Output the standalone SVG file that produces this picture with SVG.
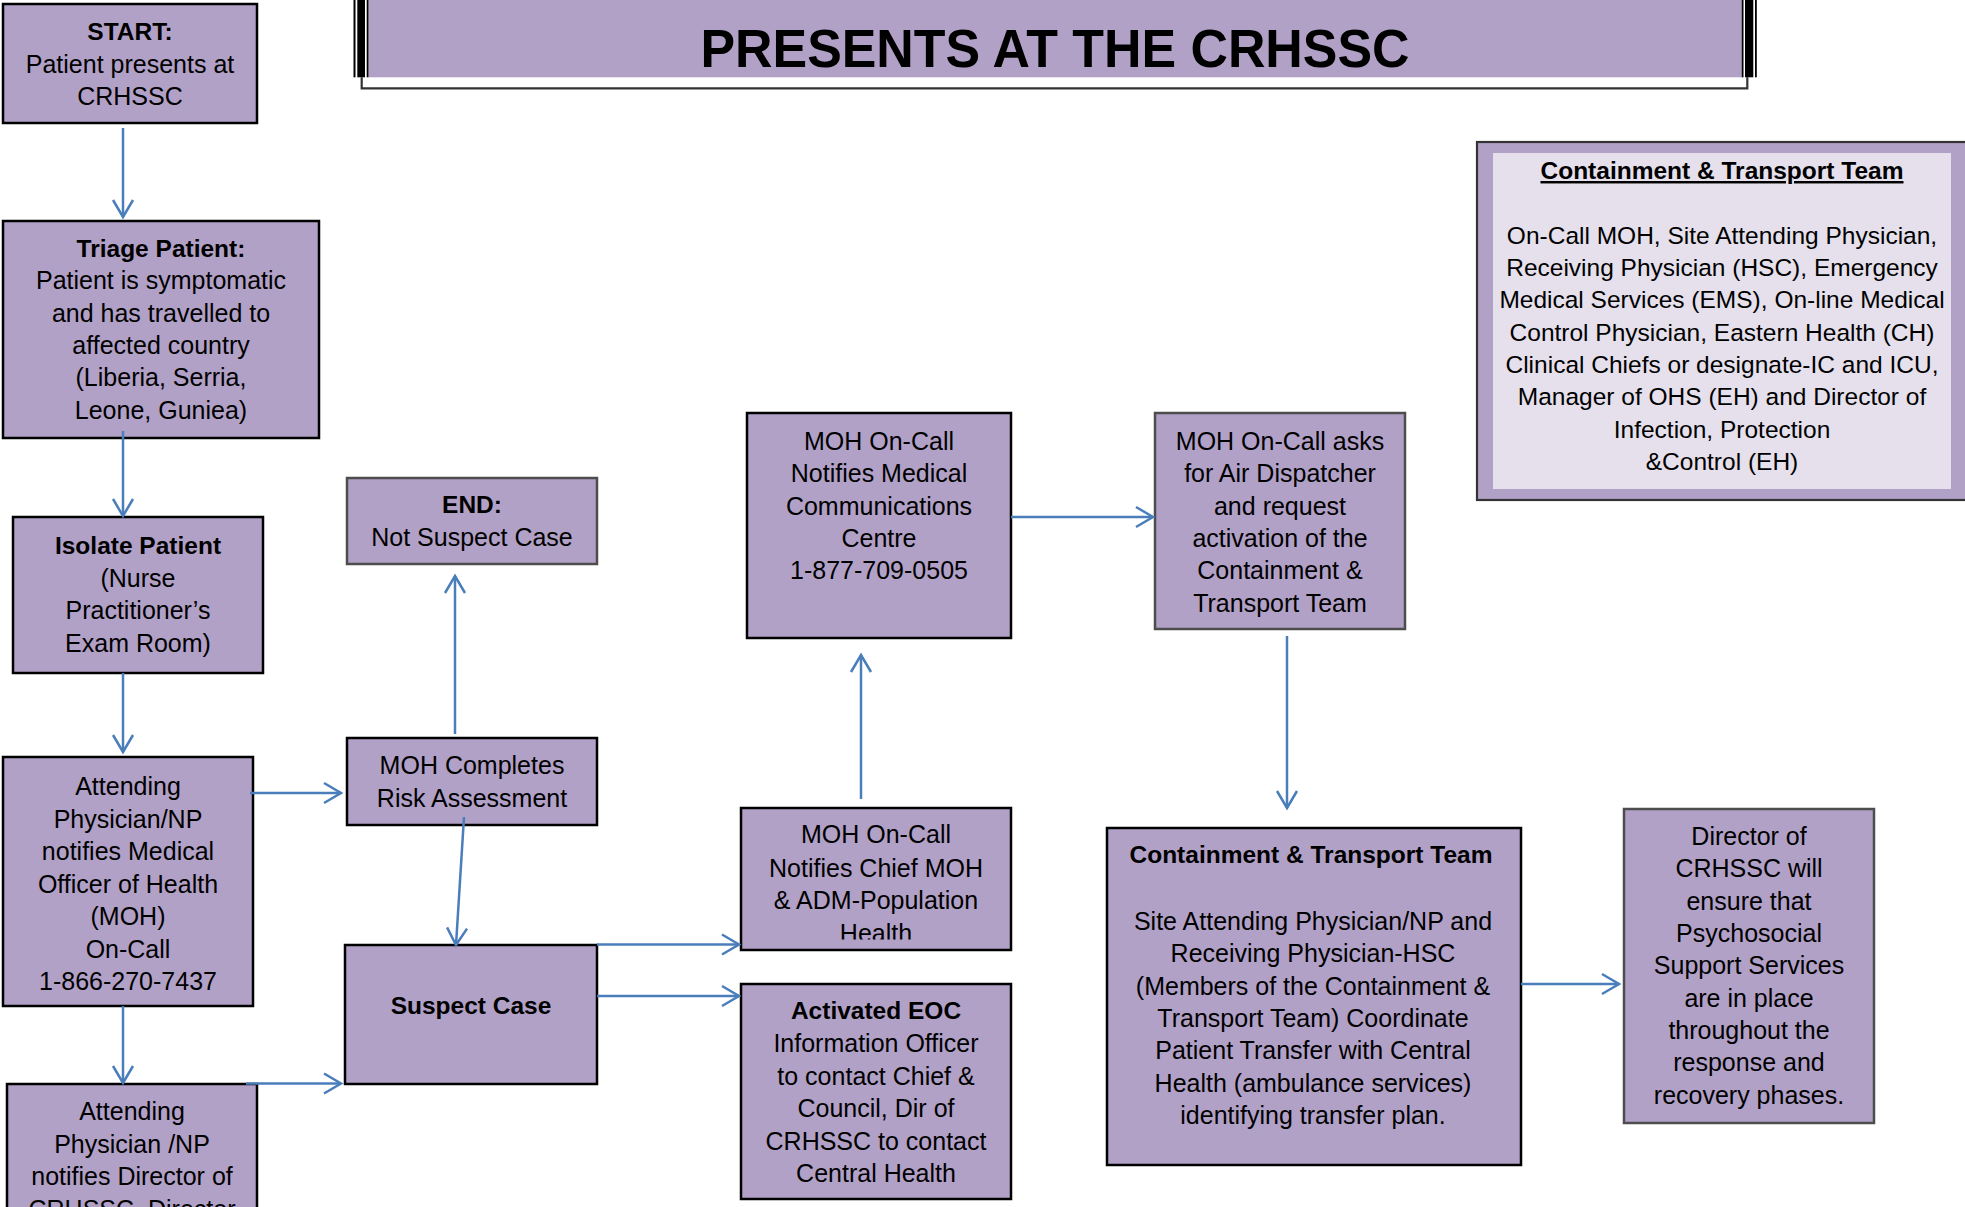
<svg xmlns="http://www.w3.org/2000/svg" width="1965" height="1207" viewBox="0 0 1965 1207">
<style>
text{font-family:"Liberation Sans",Arial,sans-serif;font-size:25px;fill:#000;text-anchor:middle}
.b{font-weight:bold;font-size:24.5px}
.s{font-size:24.5px}
.box{fill:#B2A1C7;stroke:#000;stroke-width:2.5}
.gbox{fill:#B2A1C7;stroke:#4d4d4d;stroke-width:2.5}
.conn{stroke:#4A7EBB;stroke-width:2.5;fill:none;marker-end:url(#arr)}
.bar{fill:#000}
</style>
<defs>
<marker id="arr" markerUnits="userSpaceOnUse" markerWidth="22" markerHeight="24" refX="17" refY="11" orient="auto" overflow="visible">
<path d="M0,1 L17,11 L0,21" fill="none" stroke="#4A7EBB" stroke-width="2.5"/>
</marker>
<clipPath id="chiefclip"><rect x="741" y="808" width="270" height="131.5"/></clipPath>
</defs>
<rect width="1965" height="1207" fill="#fff"/>

<g id="title">
<rect class="bar" x="353.5" y="0" width="2" height="77.3"/>
<rect class="bar" x="357.3" y="0" width="7.7" height="77.3"/>
<rect class="bar" x="366.7" y="0" width="2" height="77.3"/>
<rect x="368.7" y="0" width="1373" height="77.3" fill="#B2A1C7"/>
<rect class="bar" x="1741.7" y="0" width="1.8" height="77.3"/>
<rect class="bar" x="1745" y="0" width="8.3" height="77.3"/>
<rect class="bar" x="1755" y="0" width="1.8" height="77.3"/>
<polyline points="361.7,77.3 361.7,88.3 1747.3,88.3 1747.3,77.3" fill="none" stroke="#333" stroke-width="2.2"/>
<text x="1055" y="67" style="font-size:54px;font-weight:bold" textLength="709" lengthAdjust="spacingAndGlyphs">PRESENTS AT THE CRHSSC</text>
</g>

<g id="start">
<rect class="box" x="3" y="4" width="254" height="119"/>
<text x="130" y="40" class="b">START:</text>
<text x="130" y="72.5">Patient presents at</text>
<text x="130" y="105">CRHSSC</text>
</g>

<g id="triage">
<rect class="box" x="3" y="221" width="316" height="217"/>
<text x="161" y="257" class="b">Triage Patient:</text>
<text x="161" y="289.3">Patient is symptomatic</text>
<text x="161" y="321.7">and has travelled to</text>
<text x="161" y="354">affected country</text>
<text x="161" y="386.3">(Liberia, Serria,</text>
<text x="161" y="418.7">Leone, Guniea)</text>
</g>

<g id="isolate">
<rect class="box" x="13" y="517" width="250" height="156"/>
<text x="138" y="554" class="b">Isolate Patient</text>
<text x="138" y="586.5">(Nurse</text>
<text x="138" y="619">Practitioner’s</text>
<text x="138" y="651.5">Exam Room)</text>
</g>

<g id="attending">
<rect class="box" x="3" y="757" width="250" height="249"/>
<text x="128" y="795.3">Attending</text>
<text x="128" y="827.8">Physician/NP</text>
<text x="128" y="860.3">notifies Medical</text>
<text x="128" y="892.8">Officer of Health</text>
<text x="128" y="925.3">(MOH)</text>
<text x="128" y="957.8">On-Call</text>
<text x="128" y="990.3">1-866-270-7437</text>
</g>

<g id="attending2">
<rect class="box" x="7" y="1084" width="250" height="160"/>
<text x="132" y="1120">Attending</text>
<text x="132" y="1152.5">Physician /NP</text>
<text x="132" y="1185">notifies Director of</text>
<text x="132" y="1217.5">CRHSSC, Director</text>
</g>

<g id="end">
<rect class="gbox" x="347" y="478" width="250" height="86"/>
<text x="472" y="513.3" class="b">END:</text>
<text x="472" y="546">Not Suspect Case</text>
</g>

<g id="risk">
<rect class="box" x="347" y="738" width="250" height="87"/>
<text x="472" y="774.3">MOH Completes</text>
<text x="472" y="806.7">Risk Assessment</text>
</g>

<g id="suspect">
<rect class="box" x="345" y="945" width="252" height="139"/>
<text x="471" y="1014" class="b">Suspect Case</text>
</g>

<g id="medical">
<rect class="box" x="747" y="413" width="264" height="225"/>
<text x="879" y="450">MOH On-Call</text>
<text x="879" y="482.3">Notifies Medical</text>
<text x="879" y="514.6">Communications</text>
<text x="879" y="547">Centre</text>
<text x="879" y="579.3">1-877-709-0505</text>
</g>

<g id="chief">
<rect class="box" x="741" y="808" width="270" height="142"/>
<g clip-path="url(#chiefclip)">
<text x="876" y="843.3">MOH On-Call</text>
<text x="876" y="876.7">Notifies Chief MOH</text>
<text x="876" y="909">&amp; ADM-Population</text>
<text x="876" y="941.8">Health</text>
</g>
</g>

<g id="eoc">
<rect class="box" x="741" y="984" width="270" height="215"/>
<text x="876" y="1019.3" class="b">Activated EOC</text>
<text x="876" y="1051.7">Information Officer</text>
<text x="876" y="1085">to contact Chief &amp;</text>
<text x="876" y="1117.3">Council, Dir of</text>
<text x="876" y="1150">CRHSSC to contact</text>
<text x="876" y="1182">Central Health</text>
</g>

<g id="air">
<rect class="gbox" x="1155" y="413" width="250" height="216"/>
<text x="1280" y="450">MOH On-Call asks</text>
<text x="1280" y="482.3">for Air Dispatcher</text>
<text x="1280" y="514.6">and request</text>
<text x="1280" y="547">activation of the</text>
<text x="1280" y="579.3">Containment &amp;</text>
<text x="1280" y="611.6">Transport Team</text>
</g>

<g id="ctt">
<rect class="box" x="1107" y="828" width="414" height="337"/>
<text x="1311" y="863.3" class="b">Containment &amp; Transport Team</text>
<text x="1313" y="930">Site Attending Physician/NP and</text>
<text x="1313" y="962.3">Receiving Physician-HSC</text>
<text x="1313" y="994.7">(Members of the Containment &amp;</text>
<text x="1313" y="1027">Transport Team) Coordinate</text>
<text x="1313" y="1059.3">Patient Transfer with Central</text>
<text x="1313" y="1091.7">Health (ambulance services)</text>
<text x="1313" y="1124">identifying transfer plan.</text>
</g>

<g id="director">
<rect class="gbox" x="1624" y="809" width="250" height="314"/>
<text x="1749" y="845">Director of</text>
<text x="1749" y="877.3">CRHSSC will</text>
<text x="1749" y="909.7">ensure that</text>
<text x="1749" y="942">Psychosocial</text>
<text x="1749" y="974.3">Support Services</text>
<text x="1749" y="1006.7">are in place</text>
<text x="1749" y="1039">throughout the</text>
<text x="1749" y="1071.3">response and</text>
<text x="1749" y="1103.7">recovery phases.</text>
</g>

<g id="team-legend">
<rect x="1477" y="142" width="510" height="358" fill="#B2A1C7" stroke="#333" stroke-width="2.2"/>
<rect x="1493" y="153" width="458" height="336" fill="#E5E0EC"/>
<text x="1722" y="179" class="b" text-decoration="underline">Containment &amp; Transport Team</text>
<text x="1722" y="243.6" class="s">On-Call MOH, Site Attending Physician,</text>
<text x="1722" y="276" class="s">Receiving Physician (HSC), Emergency</text>
<text x="1722" y="308.3" class="s">Medical Services (EMS), On-line Medical</text>
<text x="1722" y="340.6" class="s">Control Physician, Eastern Health (CH)</text>
<text x="1722" y="373" class="s">Clinical Chiefs or designate-IC and ICU,</text>
<text x="1722" y="405.3" class="s">Manager of OHS (EH) and Director of</text>
<text x="1722" y="437.6" class="s">Infection, Protection</text>
<text x="1722" y="470" class="s">&amp;Control (EH)</text>
</g>

<g id="connectors">
<line class="conn" x1="123" y1="128" x2="123" y2="217"/>
<line class="conn" x1="123" y1="431" x2="123" y2="516"/>
<line class="conn" x1="123" y1="673" x2="123" y2="752"/>
<line class="conn" x1="123" y1="1006" x2="123" y2="1083"/>
<line class="conn" x1="250" y1="793" x2="341" y2="793"/>
<line class="conn" x1="455" y1="734" x2="455" y2="576"/>
<line class="conn" x1="464" y1="817" x2="456" y2="945"/>
<line class="conn" x1="246" y1="1083.5" x2="341" y2="1083.5"/>
<line class="conn" x1="597" y1="944.5" x2="739" y2="944.5"/>
<line class="conn" x1="597" y1="996" x2="739" y2="996"/>
<line class="conn" x1="861" y1="799" x2="861" y2="655"/>
<line class="conn" x1="1011" y1="517" x2="1153" y2="517"/>
<line class="conn" x1="1287" y1="636" x2="1287" y2="808"/>
<line class="conn" x1="1521" y1="984" x2="1619" y2="984"/>
</g>
</svg>
